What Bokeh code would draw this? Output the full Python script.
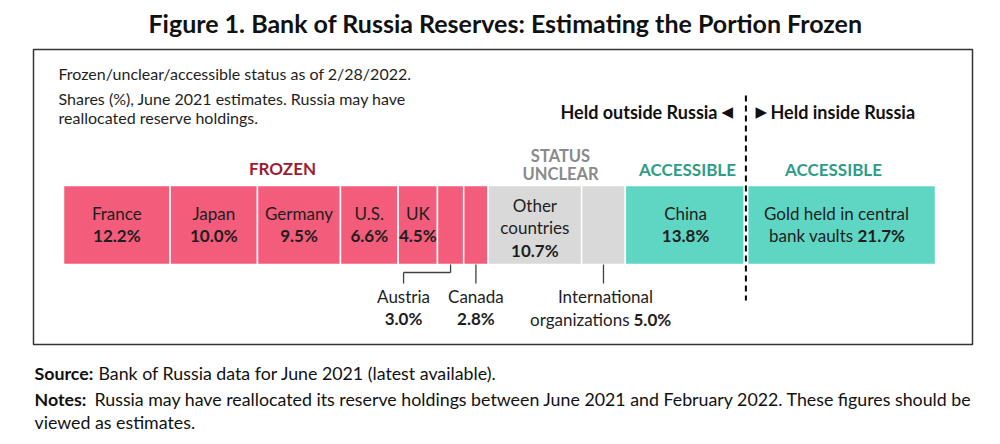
import numpy as np
from bokeh.plotting import figure
from bokeh.models import Range1d
from bokeh.core.properties import value
from bokeh.embed import file_html
from bokeh.resources import INLINE

# ---------------- data ----------------
holders = ["France", "Japan", "Germany", "U.S.", "UK", "Austria", "Canada",
           "Other countries", "International organizations", "China",
           "Gold held in central bank vaults"]
shares = [12.2, 10.0, 9.5, 6.6, 4.5, 3.0, 2.8, 10.7, 5.0, 13.8, 21.7]
status = ["frozen"] * 7 + ["unclear"] * 2 + ["accessible"] * 2
share_labels = ["12.2%", "10.0%", "9.5%", "6.6%", "4.5%", "3.0%", "2.8%",
                "10.7%", "5.0%", "13.8%", "21.7%"]

title = "Figure 1. Bank of Russia Reserves: Estimating the Portion Frozen"
subtitle = ["Frozen/unclear/accessible status as of 2/28/2022.",
            "Shares (%), June 2021 estimates. Russia may have",
            "reallocated reserve holdings."]
source_head, source_body = "Source:", "Bank of Russia data for June 2021 (latest available)."
notes_head = "Notes:"
notes_body = ["Russia may have reallocated its reserve holdings between June 2021 and February 2022. These figures should be",
              "viewed as estimates."]

# ---------------- styles ----------------
COL = {"frozen": "#F35C7A", "unclear": "#D9D9D9", "accessible": "#5ED6C3"}
FONT = "Lato"
DARK = "#1e1e1e"
FS = "17px"
FN = "17.8px"

W, H = 1000, 444
p = figure(width=W, height=H, x_range=Range1d(0, W), y_range=Range1d(H, 0),
           x_axis_type=None, y_axis_type=None, min_border=0,
           toolbar_location=None, output_backend="svg")
p.grid.visible = False
p.outline_line_color = None
p.background_fill_color = "white"

# percentage scale: 0% at px 63, 99.8% at px 935
total = float(np.sum(shares))
bar_left_px, bar_right_px = 63, 935
k = total / (bar_right_px - bar_left_px)
p.extra_x_ranges = {"pct": Range1d(-bar_left_px * k, (W - bar_left_px) * k)}

def txt(x, y, s, size=FS, bold=False, color=DARK, align="center", font=FONT, rng=None):
    kw = {"x_range_name": rng} if rng else {}
    p.text(x=[x], y=[y], text=[s], text_font=value(font), text_font_size=size,
           text_font_style="bold" if bold else "normal", text_color=color,
           text_align=align, text_baseline="middle", **kw)

# title
txt(505, 22, title, size="25px", bold=True, color="#111111")

# box
p.quad(left=[33], right=[972], top=[49], bottom=[344], fill_color=None,
       line_color="#333333", line_width=1.5)

# subtitle
for s, y in zip(subtitle, [73, 98, 117]):
    txt(58, y, s, size="16px", align="left")

# bar
shares_a = np.array(shares)
right = np.cumsum(shares_a)
left = right - shares_a
mid = (left + right) / 2
bar_top, bar_bot = 185, 264
p.quad(left=left, right=right, top=bar_top, bottom=bar_bot,
       fill_color=[COL[s] for s in status], line_color="white", line_width=1.5,
       x_range_name="pct")

# divider between China and gold
div_x = right[9]
p.segment(x0=[div_x], x1=[div_x], y0=[bar_top - 1], y1=[bar_bot + 1],
          line_color="white", line_width=5, x_range_name="pct")
p.segment(x0=[div_x], x1=[div_x], y0=[95], y1=[300], line_color="black",
          line_width=2, line_dash="6 4", x_range_name="pct")

# group headings
txt(282, 168, "FROZEN", bold=True, color="#9B1C33")
txt(560, 155, "STATUS", size="16.5px", bold=True, color="#8A8A8A")
txt(560, 173, "UNCLEAR", size="16.5px", bold=True, color="#8A8A8A")
txt(687, 169, "ACCESSIBLE", bold=True, color="#2E9C87")
txt(833, 169, "ACCESSIBLE", bold=True, color="#2E9C87")

# held outside / inside
txt(717, 111, "Held outside Russia", size="18px", bold=True, color="#111111", align="right")
txt(721, 111, "\u25C0", size="15px", color="#111111", align="left", font="DejaVu Sans")
txt(755, 111, "\u25B6", size="15px", color="#111111", align="left", font="DejaVu Sans")
txt(770, 111, "Held inside Russia", size="18px", bold=True, color="#111111", align="left")

# labels inside bar
for i in range(5):
    txt(mid[i], 213, holders[i], rng="pct")
    txt(mid[i], 235, share_labels[i], bold=True, rng="pct")
txt(mid[7], 205, "Other", rng="pct")
txt(mid[7], 227, "countries", rng="pct")
txt(mid[7], 250, share_labels[7], bold=True, rng="pct")
txt(mid[9], 213, holders[9], rng="pct")
txt(mid[9], 235, share_labels[9], bold=True, rng="pct")
txt(836, 213, "Gold held in central")
txt(853, 235, "bank vaults", align="right")
txt(857, 235, share_labels[10], bold=True, align="left")

# leader lines
LC = "#404040"
aus_off = -47 * k
p.segment(x0=[mid[5], mid[5], mid[5] + aus_off, mid[6], mid[8]],
          x1=[mid[5], mid[5] + aus_off, mid[5] + aus_off, mid[6], mid[8]],
          y0=[bar_bot, 272, 272, bar_bot, bar_bot],
          y1=[272, 272, 283, 283, 283], line_color=LC, line_width=1.3,
          x_range_name="pct")
txt(mid[5] + aus_off, 296, holders[5], rng="pct")
txt(mid[5] + aus_off, 318, share_labels[5], bold=True, rng="pct")
txt(mid[6], 296, holders[6], rng="pct")
txt(mid[6], 318, share_labels[6], bold=True, rng="pct")
txt(605, 296, "International")
txt(629, 319, "organizations", align="right")
txt(633, 319, share_labels[8], bold=True, align="left")

# footnotes
txt(34, 372, source_head, size=FN, bold=True, align="left", color="#111111")
txt(98, 372, source_body, size=FN, align="left", color="#111111")
txt(34, 398, notes_head, size=FN, bold=True, align="left", color="#111111")
txt(94, 398, notes_body[0], size=FN, align="left", color="#111111")
txt(34, 421, notes_body[1], size=FN, align="left", color="#111111")

open("out.html", "w").write(file_html(p, INLINE))
